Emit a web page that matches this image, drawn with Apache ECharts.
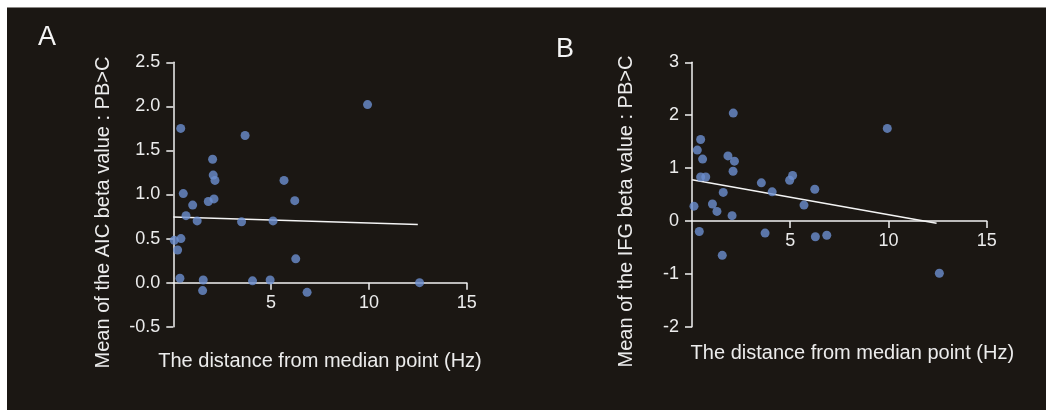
<!DOCTYPE html>
<html><head><meta charset="utf-8">
<script src="https://cdn.jsdelivr.net/npm/echarts@6/dist/echarts.min.js"></script>
<style>html,body{margin:0;padding:0;background:#1b1713;}#c{width:1046px;height:410px;}</style>
</head><body><div id="c"></div>
<script>
// Panel A: AIC
const xA = [0.38, 0.05, 0.39, 0.22, 0.34, 0.51, 0.65, 0.99, 1.22, 1.53, 1.50, 1.79, 2.01, 2.04, 2.13, 2.08, 3.67, 3.49, 4.05, 4.95, 5.10, 5.66, 6.21, 6.26, 6.84, 9.93, 12.59];
const yA = [1.75, 0.48, 0.50, 0.37, 0.05, 1.01, 0.76, 0.88, 0.70, 0.03, -0.09, 0.92, 1.40, 1.22, 1.16, 0.95, 1.67, 0.69, 0.02, 0.03, 0.70, 1.16, 0.93, 0.27, -0.11, 2.02, 0.00];
const fitAx = [0, 12.5];
const fitAy = [0.745, 0.66];
// Panel B: IFG
const xB = [0.10, 0.27, 0.44, 0.54, 0.44, 0.70, 0.37, 1.04, 1.27, 1.59, 1.54, 1.83, 2.10, 2.16, 2.09, 2.04, 3.53, 3.72, 4.08, 4.97, 5.12, 5.70, 6.25, 6.28, 6.86, 9.94, 12.59];
const yB = [0.28, 1.34, 1.54, 1.17, 0.83, 0.83, -0.20, 0.32, 0.18, 0.54, -0.65, 1.23, 2.04, 1.13, 0.94, 0.10, 0.72, -0.23, 0.55, 0.77, 0.86, 0.30, 0.60, -0.30, -0.27, 1.75, -0.99];
const fitBx = [0, 12.45];
const fitBy = [0.78, -0.045];

// axis ranges
const xRange = [0, 15, 5];
const yRangeA = [-0.5, 2.5, 0.5];
const yRangeB = [-2, 3, 1];

const panelLabels = ['A', 'B'];
const xTitle = 'The distance from median point (Hz)';
const yTitles = ['Mean of the AIC beta value : PB>C', 'Mean of the IFG beta value : PB>C'];

const FONT = 'Liberation Sans, Arial, sans-serif';
const TXT = '#ececec';
const AX = '#f2f2f2';
const DOT = '#6b8ed0';
const GRID_H = 264.4;

const zip = (a, b) => a.map((v, i) => [v, b[i]]);
// shift the x axis up so that it crosses the y axis at 0
const zeroOffset = r => -GRID_H * (0 - r[0]) / (r[1] - r[0]);

function xAxisCfg(idx, yr, gap, pad) {
  return {
    type: 'value', gridIndex: idx, min: xRange[0], max: xRange[1], interval: xRange[2],
    position: 'bottom', offset: zeroOffset(yr),
    name: xTitle, nameLocation: 'middle', nameGap: gap,
    nameTextStyle: { color: TXT, fontSize: 20, fontFamily: FONT, padding: pad },
    axisLine: { onZero: false, lineStyle: { color: AX, width: 1.5 } },
    axisTick: { show: true, length: 7, lineStyle: { color: AX, width: 1.5 } },
    axisLabel: { color: TXT, fontSize: 18, fontFamily: FONT, margin: 11, showMinLabel: false,
      formatter: v => v === 0 ? '' : String(v) },
    splitLine: { show: false }
  };
}
function yAxisCfg(idx, r, dec, name, gap, pad) {
  return {
    type: 'value', gridIndex: idx, min: r[0], max: r[1], interval: r[2],
    name: name, nameLocation: 'middle', nameGap: gap,
    nameTextStyle: { color: TXT, fontSize: 20, fontFamily: FONT, padding: pad },
    axisLine: { onZero: false, lineStyle: { color: AX, width: 1.5 } },
    axisTick: { show: true, length: 7, lineStyle: { color: AX, width: 1.5 } },
    axisLabel: { color: TXT, fontSize: 18, fontFamily: FONT, margin: 13,
      formatter: v => v.toFixed(dec) },
    splitLine: { show: false }
  };
}

const chart = echarts.init(document.getElementById('c'), null, { renderer: 'canvas' });
chart.setOption({
  backgroundColor: '#1b1713',
  animation: false,
  title: [
    { text: panelLabels[0], left: 38, top: 24, padding: 0, textStyle: { color: '#f4f4f4', fontSize: 27, fontWeight: 'normal', fontFamily: FONT } },
    { text: panelLabels[1], left: 556, top: 36, padding: 0, textStyle: { color: '#f4f4f4', fontSize: 27, fontWeight: 'normal', fontFamily: FONT } }
  ],
  graphic: [
    { type: 'rect', shape: { x: 0, y: 0, width: 1046, height: 7 }, style: { fill: '#ffffff' }, silent: true },
    { type: 'rect', shape: { x: 0, y: 7, width: 1046, height: 1 }, style: { fill: '#8a8784' }, silent: true },
    { type: 'rect', shape: { x: 0, y: 0, width: 7, height: 410 }, style: { fill: '#ffffff' }, silent: true }
  ],
  grid: [
    { left: 173.3, top: 62.3, width: 293.4, height: GRID_H, outerBoundsMode: 'none', containLabel: false },
    { left: 692, top: 62.3, width: 294.7, height: GRID_H, outerBoundsMode: 'none', containLabel: false }
  ],
  xAxis: [ xAxisCfg(0, yRangeA, 69, [0, 0, 0, 0]), xAxisCfg(1, yRangeB, 123, [0, 0, 0, 26]) ],
  yAxis: [
    yAxisCfg(0, yRangeA, 1, yTitles[0], 60, [0, 36, 0, 0]),
    yAxisCfg(1, yRangeB, 0, yTitles[1], 56, [0, 34, 0, 0])
  ],
  series: [
    { type: 'line', xAxisIndex: 0, yAxisIndex: 0, data: zip(fitAx, fitAy), showSymbol: false, symbol: 'none',
      lineStyle: { color: '#f4f4f4', width: 1.5 }, z: 2 },
    { type: 'scatter', xAxisIndex: 0, yAxisIndex: 0, data: zip(xA, yA), symbolSize: 9,
      itemStyle: { color: DOT }, z: 3 },
    { type: 'line', xAxisIndex: 1, yAxisIndex: 1, data: zip(fitBx, fitBy), showSymbol: false, symbol: 'none',
      lineStyle: { color: '#f4f4f4', width: 1.5 }, z: 2 },
    { type: 'scatter', xAxisIndex: 1, yAxisIndex: 1, data: zip(xB, yB), symbolSize: 9,
      itemStyle: { color: DOT }, z: 3 }
  ]
});
</script>
</body></html>
